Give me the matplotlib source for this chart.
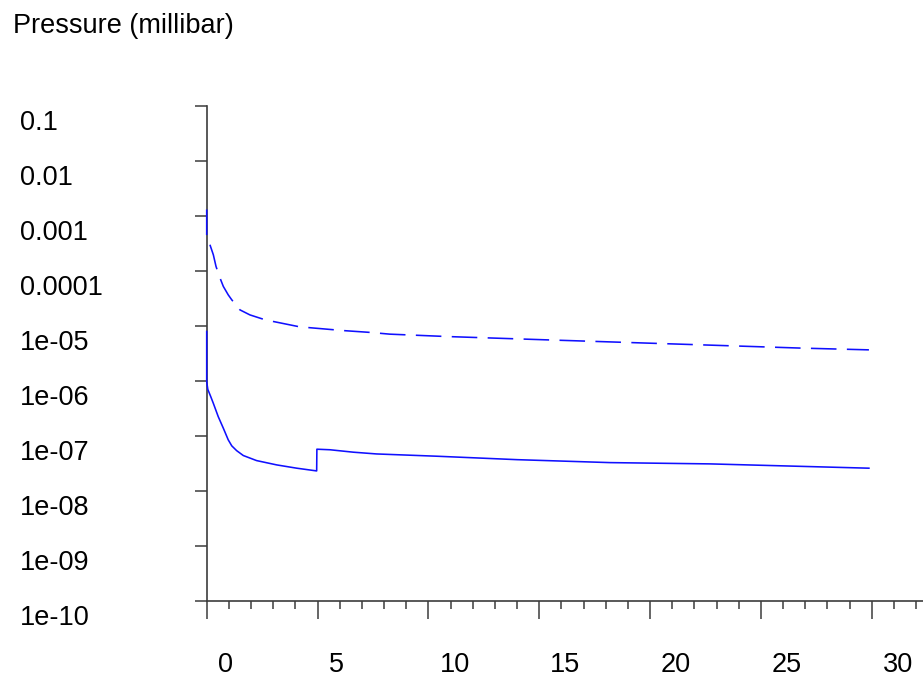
import numpy as np
import matplotlib
matplotlib.use("Agg")
import matplotlib.pyplot as plt
import matplotlib.transforms as mtransforms

plt.rcParams['font.family'] = ['Liberation Sans', 'DejaVu Sans']

# =========================
# DATA
# =========================
t_upper = [0, 0, 0.12, 0.30, 0.42, 0.6, 0.75, 0.97, 1.13, 1.5, 1.95, 2.55,
           3.0, 4.13, 4.58, 5.71, 6.16, 7.36, 8.26, 10.8, 15.35, 22.7, 26.8,
           29.87]
p_upper = [1.3e-3, 4.0e-4, 3.2e-4, 1.95e-4, 1.2e-4, 7.4e-5, 5.2e-5, 3.66e-5,
           2.97e-5, 1.95e-5, 1.58e-5, 1.32e-5, 1.2e-5, 9.7e-6, 9.3e-6, 8.5e-6,
           8.2e-6, 7.6e-6, 7.06e-6, 6.4e-6, 5.56e-6, 4.46e-6, 3.94e-6, 3.66e-6]

t_lower = [0, 0, 0.05, 0.18, 0.30, 0.52, 0.75, 0.97, 1.13, 1.35, 1.65, 2.25,
           3.16, 4.06, 4.96, 4.97, 5.56, 6.61, 7.66, 10.4, 14.0, 18.2, 22.7,
           29.87]
p_lower = [7.9e-6, 9.7e-7, 7.0e-7, 5.2e-7, 3.9e-7, 2.24e-7, 1.38e-7, 8.5e-8,
           6.6e-8, 5.4e-8, 4.4e-8, 3.56e-8, 2.97e-8, 2.59e-8, 2.31e-8, 5.73e-8,
           5.6e-8, 5.06e-8, 4.7e-8, 4.27e-8, 3.7e-8, 3.27e-8, 3.1e-8, 2.59e-8]

y_ticks = [1e-10, 1e-9, 1e-8, 1e-7, 1e-6, 1e-5, 1e-4, 1e-3, 1e-2, 1e-1]
y_labels = ["1e-10", "1e-09", "1e-08", "1e-07", "1e-06", "1e-05",
            "0.0001", "0.001", "0.01", "0.1"]
x_major = [0, 5, 10, 15, 20, 25, 30]
x_labels = ["0", "5", "10", "15", "20", "25", "30"]

# =========================
# FIGURE
# =========================
W, H = 923, 684
fig = plt.figure(figsize=(W / 100, H / 100), dpi=100)

# axes box in pixels: x=0 at 206.7, y=1e-10 at 601, y=0.1 at 105.7
ax = fig.add_axes([206.7 / W, 1 - 601 / H, (W - 206.7) / W, (601 - 105.7) / H])
ax.set_yscale('log')
ax.set_ylim(1e-10, 1e-1)
ax.set_xlim(0, (W - 206.7) / 22.17)

axis_col = '#3c3c3c'
for s in ['top', 'right']:
    ax.spines[s].set_visible(False)
for s in ['left', 'bottom']:
    ax.spines[s].set_color(axis_col)
    ax.spines[s].set_linewidth(1.2)

# curves
ax.plot(t_upper, p_upper, color='#1010ff', lw=1.15, dashes=(16, 6.5),
        clip_on=False, zorder=3)
ax.plot(t_lower, p_lower, color='#1010ff', lw=1.15, clip_on=False, zorder=3)

# ticks
ax.set_yticks(y_ticks)
ax.yaxis.set_minor_locator(matplotlib.ticker.NullLocator())
ax.set_xticks(x_major)
ax.set_xticks(np.arange(1, 33), minor=True)
ax.tick_params(axis='y', which='major', direction='out', length=8.6,
               width=1.1, color=axis_col, labelleft=False)
ax.tick_params(axis='x', which='major', direction='out', length=13,
               width=1.1, color=axis_col, labelbottom=False)
ax.tick_params(axis='x', which='minor', direction='out', length=5.8,
               width=1.1, color=axis_col)

# tick labels, offset the way the original renderer does
ytrans = mtransforms.blended_transform_factory(fig.transFigure, ax.transData) + \
    mtransforms.ScaledTranslation(0, -17 / 100, fig.dpi_scale_trans)
for v, lab in zip(y_ticks, y_labels):
    ax.text(20 / W, v, lab, transform=ytrans, ha='left', va='center',
            fontsize=19.5, color='black')

xtrans = mtransforms.blended_transform_factory(ax.transData, fig.transFigure) + \
    mtransforms.ScaledTranslation(11 / 100, 0, fig.dpi_scale_trans)
for v, lab in zip(x_major, x_labels):
    ax.text(v, 1 - 665 / H, lab, transform=xtrans, ha='left', va='center',
            fontsize=19.5, color='black')

fig.text(13 / W, 1 - 33 / H, "Pressure (millibar)", ha='left', va='baseline',
         fontsize=19.5, color='black')

fig.savefig("out.png", dpi=100)
